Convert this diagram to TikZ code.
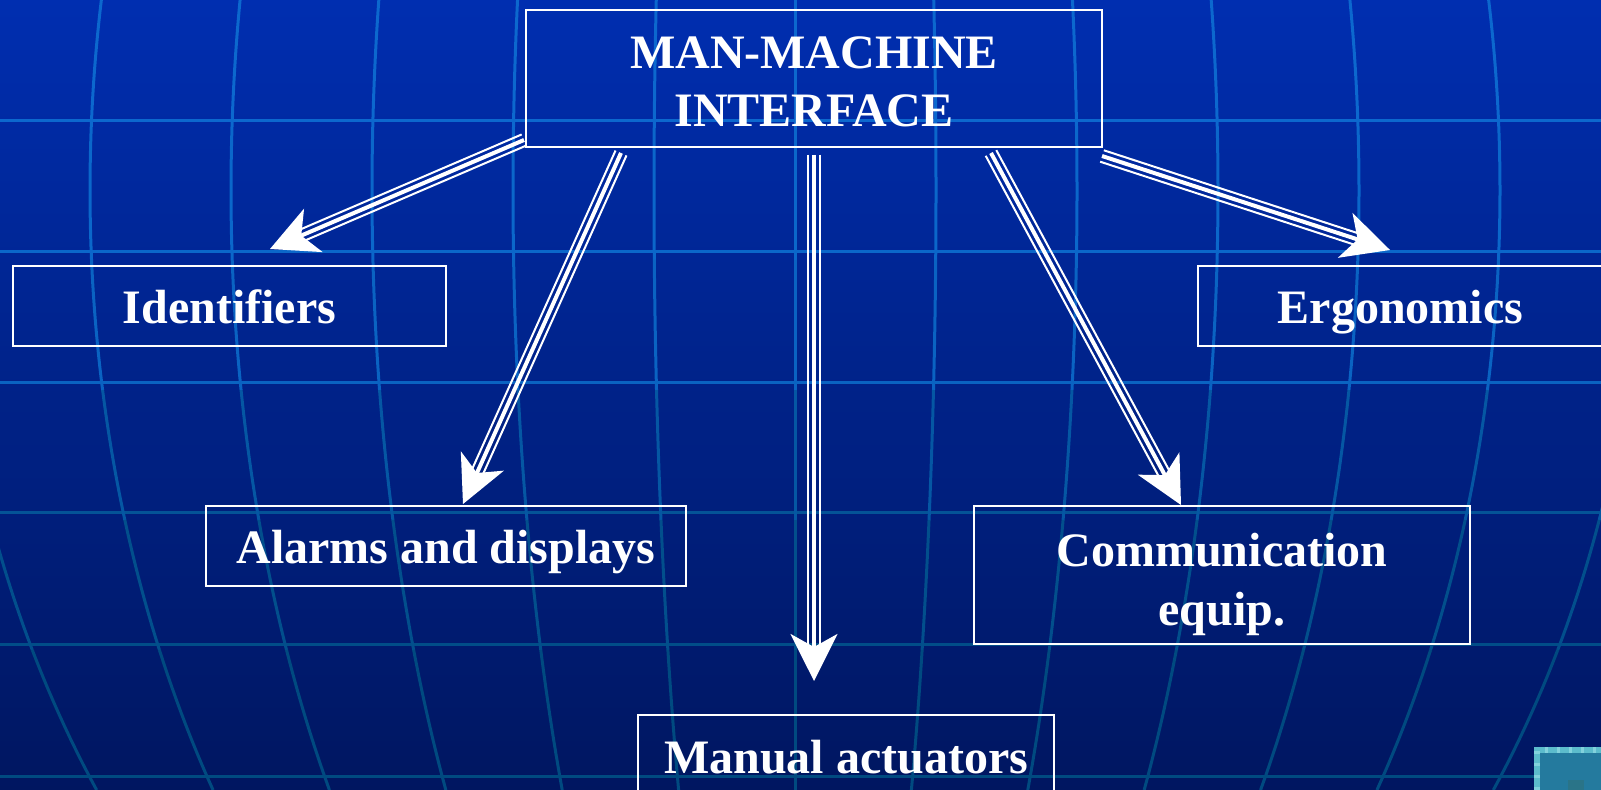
\documentclass[tikz,border=0pt]{standalone}
\usepackage{fontspec}
\setmainfont{Liberation Serif}
\usetikzlibrary{calc,arrows.meta}
\definecolor{bgtop}{RGB}{0,46,176}
\definecolor{bgbot}{RGB}{0,22,96}
\definecolor{gridtop}{RGB}{12,104,206}
\definecolor{gridbot}{RGB}{0,74,128}
\definecolor{btnfill}{RGB}{36,122,158}
\definecolor{btnedge}{RGB}{92,188,204}
\definecolor{btnedgelt}{RGB}{130,210,220}
\definecolor{btndark}{RGB}{42,116,136}
\newcommand{\triarrow}[2]{%
  \draw[arrline, line width=1pt, shorten >=12pt] ($(#1)!3pt!90:(#2)$) -- ($(#2)!3pt!-90:(#1)$);
  \draw[arrline, line width=1pt, shorten >=12pt] ($(#1)!3pt!-90:(#2)$) -- ($(#2)!3pt!90:(#1)$);
  \draw[arrline, line width=2pt, -{Stealth[length=23.5pt,width=23.5pt,inset=6.5pt]}] (#1) -- (#2);}
\begin{document}
\begin{tikzpicture}[x=0.5pt,y=-0.5pt,
  box/.style={draw=white, line width=0.85pt, inner sep=0pt, text=white,
    font=\bfseries\fontsize{24pt}{29pt}\selectfont, text height=18pt, text depth=0pt},
  lbl/.style={inner sep=0pt, text=white, font=\bfseries\fontsize{24pt}{29pt}\selectfont},
  arrline/.style={draw=white, fill=white, line cap=butt},
  gridline/.style={line width=1.5pt}]
\useasboundingbox (0,0) rectangle (1601,790);
\shade[top color=bgtop, bottom color=bgbot] (0,0) rectangle (1601,790);
\begin{scope}
  \clip (0,0) rectangle (1601,790);
  \foreach \yy/\c in {121/100,252/95,383/85,513/30,645/10,776/0}
    \draw[gridline, gridtop!\c!gridbot] (0,\yy) -- (1601,\yy);
  \foreach \a/\b/\c in {0/130/100,130/260/95,260/390/85,390/520/45,520/650/15,650/790/0}
    \foreach \k in {-6,...,6}
      \draw[gridline, gridtop!\c!gridbot] plot[domain=\a:\b, samples=12, variable=\t]
        ({795+(\k)*141*sqrt(1-((\t-190)/1063)^2)},\t);
\end{scope}
% boxes
\node[box, minimum width=288pt, minimum height=68.5pt] (mmi) at (814,78.5) {};
\node[lbl, anchor=base] (mmia) at (814,69) {MAN-MACHINE};
\node[lbl, anchor=base] (mmib) at (814,127) {INTERFACE};
\node[box, minimum width=216.5pt, minimum height=40pt] (ident) at (229.5,306) {Identifiers};
\node[box, minimum width=202.5pt, minimum height=40pt] (ergo) at (1400.5,306) {Ergonomics};
\node[box, minimum width=240pt, minimum height=40pt] (alarm) at (446,546) {Alarms and displays};
\node[box, minimum width=248pt, minimum height=69pt] (comm) at (1222,575) {};
\node[lbl, anchor=base] (comma) at (1222,567) {Communication};
\node[lbl, anchor=base] (commb) at (1222,625) {equip.};
\node[box, minimum width=208pt, minimum height=40pt] (manual) at (846,755) {Manual actuators};
% arrow ends
\coordinate (s1) at (524,140);  \coordinate (e1) at (270,249);
\coordinate (s2) at (621,153);  \coordinate (e2) at (463,504);
\coordinate (s3) at (814,155);  \coordinate (e3) at (814,681);
\coordinate (s4) at (991,153);  \coordinate (e4) at (1181,505);
\coordinate (s5) at (1102,156); \coordinate (e5) at (1390,250);
\triarrow{s1}{e1}
\triarrow{s2}{e2}
\triarrow{s3}{e3}
\triarrow{s4}{e4}
\triarrow{s5}{e5}
% corner button
\fill[btnfill] (1534,747) rectangle (1601,790);
\draw[btnedge, line width=3pt] (1537,790) -- (1537,750) -- (1601,750);
\draw[btnedgelt, line width=3pt, dash pattern=on 1.5pt off 4.5pt] (1537,790) -- (1537,750) -- (1601,750);
\fill[btndark] (1568,780) rectangle (1584,790);
\end{tikzpicture}
\end{document}
